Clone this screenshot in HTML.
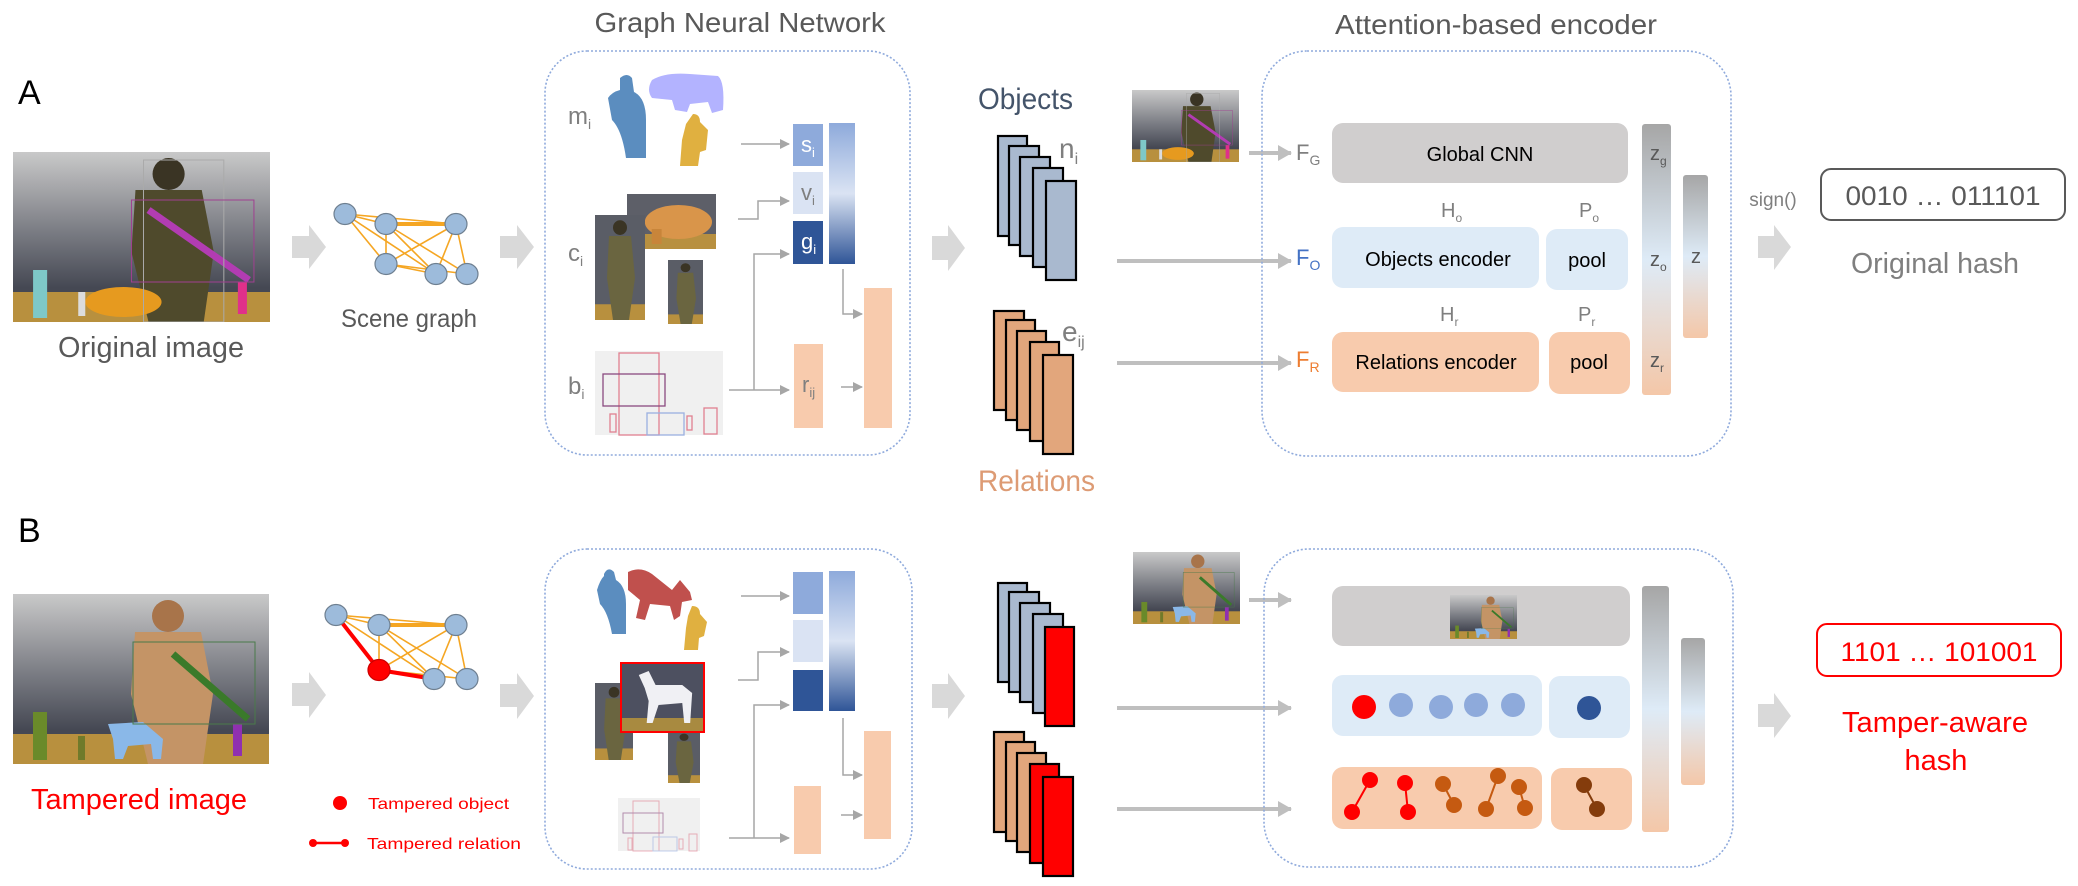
<!DOCTYPE html>
<html><head><meta charset="utf-8"><style>
html,body{margin:0;padding:0;background:#fff;}
svg{display:block;font-family:"Liberation Sans",sans-serif;}
</style></head><body>
<svg width="2078" height="886" viewBox="0 0 2078 886" xmlns="http://www.w3.org/2000/svg">
<defs>
<marker id="ah" markerWidth="10" markerHeight="10" refX="9" refY="5" orient="auto" markerUnits="userSpaceOnUse"><path d="M0,0 L10,5 L0,10 z" fill="#a6a6a6"/></marker>
<marker id="ahb" markerWidth="14" markerHeight="16" refX="13" refY="8" orient="auto" markerUnits="userSpaceOnUse"><path d="M0,0 L14,8 L0,16 z" fill="#bfbfbf"/></marker>
<linearGradient id="sky" x1="0" y1="0" x2="0" y2="1"><stop offset="0" stop-color="#c9c9c9"/><stop offset="0.45" stop-color="#7d7f86"/><stop offset="0.8" stop-color="#454853"/></linearGradient>
<linearGradient id="gbar" x1="0" y1="0" x2="0" y2="1"><stop offset="0" stop-color="#8eaadb"/><stop offset="0.5" stop-color="#dae3f3"/><stop offset="1" stop-color="#2f5597"/></linearGradient>
<linearGradient id="zbar" x1="0" y1="0" x2="0" y2="1"><stop offset="0" stop-color="#a6a6a6"/><stop offset="0.5" stop-color="#deebf7"/><stop offset="1" stop-color="#f4c7a8"/></linearGradient>
<symbol id="photoA" viewBox="0 0 256 170" preserveAspectRatio="none">
<rect width="256" height="170" fill="url(#sky)"/>
<rect y="140" width="256" height="30" fill="#b8903e"/>
<circle cx="155" cy="22" r="16" fill="#3a3424"/>
<polygon points="122,38 188,38 200,100 190,170 135,170 118,100" fill="#4f4a2c"/>
<line x1="135" y1="58" x2="235" y2="128" stroke="#b23cb2" stroke-width="7"/>
<ellipse cx="110" cy="150" rx="38" ry="15" fill="#e69a1f"/>
<rect x="20" y="118" width="14" height="48" fill="#7ec8c8"/>
<rect x="65" y="140" width="7" height="24" fill="#dcdcdc"/>
<rect x="224" y="130" width="9" height="32" fill="#e0308a"/>
<rect x="130" y="8" width="80" height="162" fill="none" stroke="#aaa" stroke-width="1"/>
<rect x="118" y="48" width="122" height="82" fill="none" stroke="#a04090" stroke-width="1"/>
</symbol>
<symbol id="photoB" viewBox="0 0 256 170" preserveAspectRatio="none">
<rect width="256" height="170" fill="url(#sky)"/>
<rect y="140" width="256" height="30" fill="#b8903e"/>
<circle cx="155" cy="22" r="16" fill="#a8744a"/>
<polygon points="122,38 188,38 200,100 190,170 135,170 118,100" fill="#c49466"/>
<line x1="160" y1="60" x2="235" y2="125" stroke="#3a7a2a" stroke-width="7"/>
<path d="M95,130 L130,128 L150,145 L148,165 L140,165 L138,150 L115,152 L110,165 L102,165 L100,145 Z" fill="#8ab8e8"/>
<rect x="20" y="118" width="14" height="48" fill="#6a8a2a"/>
<rect x="65" y="142" width="7" height="24" fill="#707a2a"/>
<rect x="220" y="130" width="9" height="32" fill="#9030b0"/>
<rect x="120" y="48" width="122" height="82" fill="none" stroke="#4a7a4a" stroke-width="1"/>
</symbol>
<symbol id="soldier" viewBox="0 0 50 100" preserveAspectRatio="none">
<rect width="50" height="100" fill="#5a5d66"/>
<rect y="85" width="50" height="15" fill="#b8903e"/>
<circle cx="25" cy="12" r="7" fill="#3a3424"/>
<polygon points="14,20 36,20 40,60 34,100 18,100 12,60" fill="#6a6540"/>
</symbol>
<symbol id="rhino" viewBox="0 0 90 55" preserveAspectRatio="none">
<rect width="90" height="55" fill="#5d5f68"/>
<rect y="40" width="90" height="15" fill="#b89040"/>
<ellipse cx="52" cy="28" rx="34" ry="17" fill="#d9954a"/>
<rect x="25" y="35" width="10" height="15" fill="#c8853a"/>
</symbol>
<symbol id="horse" viewBox="0 0 84 69" preserveAspectRatio="none">
<rect width="84" height="69" fill="#4d5060"/>
<rect y="55" width="84" height="14" fill="#a88a40"/>
<path d="M18,12 L28,8 L35,22 L62,22 L72,30 L70,60 L64,60 L62,40 L38,42 L32,60 L26,60 L28,38 L24,25 Z" fill="#f0f0f4"/>
</symbol>
</defs>

<text x="740" y="32" font-size="28" fill="#595959" text-anchor="middle" textLength="291" lengthAdjust="spacingAndGlyphs">Graph Neural Network</text>
<text x="1496" y="34" font-size="28" fill="#595959" text-anchor="middle" textLength="322" lengthAdjust="spacingAndGlyphs">Attention-based encoder</text>

<text x="18" y="104" font-size="34" fill="#000">A</text>
<use href="#photoA" x="13" y="152" width="257" height="170"/>
<text x="151" y="357" font-size="29" fill="#595959" text-anchor="middle" textLength="186" lengthAdjust="spacingAndGlyphs">Original image</text>

<g fill="#d9d9d9">
<polygon points="292,236 309,236 309,225 326,247 309,269 309,258 292,258"/>
<polygon points="500,236 517,236 517,225 534,247 517,269 517,258 500,258"/>
<polygon points="932,236 948,236 948,225 965,248 948,271 948,260 932,260"/>
<polygon points="1758,236 1774,236 1774,225 1791,247 1774,270 1774,258 1758,258"/>
<polygon points="292,683 309,683 309,672 326,695 309,718 309,706 292,706"/>
<polygon points="500,684 517,684 517,673 534,696 517,719 517,707 500,707"/>
<polygon points="932,684 948,684 948,673 965,696 948,719 948,708 932,708"/>
<polygon points="1758,704 1774,704 1774,693 1791,716 1774,738 1774,727 1758,727"/>
</g>

<g stroke="#f5a623" stroke-width="1.6">
<line x1="345" y1="214" x2="386" y2="224"/><line x1="345" y1="214" x2="456" y2="224"/>
<line x1="345" y1="214" x2="386" y2="264"/><line x1="345" y1="214" x2="436" y2="274"/>
<line x1="386" y1="224" x2="456" y2="224" stroke-width="4"/><line x1="386" y1="224" x2="436" y2="274"/>
<line x1="386" y1="224" x2="467" y2="274"/><line x1="386" y1="224" x2="386" y2="264"/>
<line x1="386" y1="264" x2="456" y2="224"/><line x1="386" y1="264" x2="436" y2="274"/>
<line x1="456" y1="224" x2="436" y2="274"/><line x1="456" y1="224" x2="467" y2="274"/>
<line x1="386" y1="264" x2="467" y2="274"/>
</g>
<g fill="#9dbbdb" stroke="#6e7f90" stroke-width="1.2">
<ellipse cx="345" cy="214" rx="11" ry="10.5"/><ellipse cx="386" cy="224" rx="11" ry="10.5"/>
<ellipse cx="456" cy="224" rx="11" ry="10.5"/><ellipse cx="386" cy="264" rx="11" ry="10.5"/>
<ellipse cx="436" cy="274" rx="11" ry="10.5"/><ellipse cx="467" cy="274" rx="11" ry="10.5"/>
</g>
<text x="409" y="327" font-size="25" fill="#595959" text-anchor="middle" textLength="136" lengthAdjust="spacingAndGlyphs">Scene graph</text>

<rect x="545" y="51" width="365" height="404" rx="42" fill="none" stroke="#8faadc" stroke-width="1.6" stroke-dasharray="2,2"/>
<text x="568" y="124" font-size="24" fill="#7f7f7f">m<tspan font-size="14" dy="5">i</tspan></text>
<text x="568" y="261" font-size="24" fill="#7f7f7f">c<tspan font-size="14" dy="5">i</tspan></text>
<text x="568" y="394" font-size="24" fill="#7f7f7f">b<tspan font-size="14" dy="5">i</tspan></text>
<path d="M620,78 Q627,72 632,78 L634,92 Q646,98 646,120 L646,158 L626,158 Q622,130 612,120 L608,98 Q612,92 620,90 Z" fill="#5b8dbf"/>
<path d="M652,80 Q665,72 690,74 L718,76 Q725,82 723,110 L712,113 L708,102 L690,104 L687,112 L675,110 L672,100 L652,98 Q646,90 652,80 Z" fill="#b3b3ff"/>
<path d="M693,114 Q700,114 700,122 L708,130 L706,150 L700,152 L698,166 L680,166 L682,140 L686,124 Z" fill="#e0b040"/>
<use href="#rhino" x="627" y="194" width="89" height="55"/>
<use href="#soldier" x="595" y="215" width="50" height="105"/>
<use href="#soldier" x="668" y="260" width="35" height="64"/>
<rect x="595" y="351" width="128" height="84" fill="#f0f0f0"/>
<g fill="none" stroke-width="1.3">
<rect x="619" y="353" width="40" height="82" stroke="#e08090"/>
<rect x="603" y="374" width="62" height="32" stroke="#8a4a80"/>
<rect x="610" y="414" width="6" height="18" stroke="#e08090"/>
<rect x="647" y="413" width="37" height="22" stroke="#9ab0e0"/>
<rect x="687" y="416" width="5" height="14" stroke="#e08090"/>
<rect x="704" y="408" width="13" height="26" stroke="#e08090"/>
</g>
<rect x="793" y="124" width="30" height="42" fill="#8eaadb"/>
<rect x="793" y="172" width="30" height="42" fill="#dae3f3"/>
<rect x="793" y="221" width="30" height="43" fill="#2f5597"/>
<rect x="829" y="123" width="26" height="141" fill="url(#gbar)"/>
<text x="801" y="152" font-size="22" fill="#fff">s<tspan font-size="13" dy="5">i</tspan></text>
<text x="801" y="200" font-size="22" fill="#7f7f7f">v<tspan font-size="13" dy="5">i</tspan></text>
<text x="801" y="249" font-size="22" fill="#fff">g<tspan font-size="13" dy="5">i</tspan></text>
<rect x="794" y="344" width="29" height="84" fill="#f8cbad"/>
<rect x="864" y="288" width="28" height="140" fill="#f8cbad"/>
<text x="802" y="392" font-size="22" fill="#7f7f7f">r<tspan font-size="13" dy="5">ij</tspan></text>
<g stroke="#a6a6a6" stroke-width="1.5" fill="none" marker-end="url(#ah)">
<line x1="741" y1="144" x2="789" y2="144"/>
<polyline points="738,219 758,219 758,201 789,201"/>
<polyline points="729,390 789,390"/>
<polyline points="754,390 754,254 789,254"/>
<polyline points="843,269 843,314 862,314"/>
<line x1="841" y1="387" x2="862" y2="387"/>
</g>

<text x="978" y="109" font-size="30" fill="#44546a" textLength="95" lengthAdjust="spacingAndGlyphs">Objects</text>
<g stroke="#000" stroke-width="2.2" fill="#a9b9cf">
<rect x="998" y="136" width="29" height="100"/><rect x="1009" y="146" width="30" height="99"/>
<rect x="1020" y="157" width="30" height="99"/><rect x="1033" y="168" width="30" height="99"/>
<rect x="1046" y="181" width="30" height="99"/>
</g>
<text x="1059" y="158" font-size="28" fill="#7f7f7f">n<tspan font-size="16" dy="6">i</tspan></text>
<g stroke="#000" stroke-width="2.2" fill="#e2a67c">
<rect x="994" y="311" width="30" height="99"/><rect x="1006" y="320" width="29" height="100"/>
<rect x="1017" y="331" width="29" height="99"/><rect x="1030" y="342" width="29" height="99"/>
<rect x="1043" y="355" width="30" height="99"/>
</g>
<text x="1062" y="341" font-size="28" fill="#7f7f7f">e<tspan font-size="16" dy="6">ij</tspan></text>
<text x="978" y="491" font-size="30" fill="#dd9b74" textLength="117" lengthAdjust="spacingAndGlyphs">Relations</text>

<use href="#photoA" x="1132" y="90" width="107" height="72"/>
<g stroke="#bfbfbf" stroke-width="4" fill="none" marker-end="url(#ahb)">
<line x1="1249" y1="153" x2="1291" y2="153"/>
<line x1="1117" y1="261" x2="1291" y2="261"/>
<line x1="1117" y1="363" x2="1291" y2="363"/>
<line x1="1249" y1="600" x2="1291" y2="600"/>
<line x1="1117" y1="708" x2="1291" y2="708"/>
<line x1="1117" y1="809" x2="1291" y2="809"/>
</g>

<rect x="1262" y="51" width="469" height="405" rx="45" fill="none" stroke="#8faadc" stroke-width="1.6" stroke-dasharray="2,2"/>
<rect x="1332" y="123" width="296" height="60" rx="11" fill="#d0cece"/>
<text x="1480" y="161" font-size="20" fill="#000" text-anchor="middle">Global CNN</text>
<text x="1296" y="160" font-size="22" fill="#7f7f7f">F<tspan font-size="14" dy="5">G</tspan></text>
<text x="1441" y="217" font-size="20" fill="#7f7f7f">H<tspan font-size="12" dy="5">o</tspan></text>
<text x="1579" y="217" font-size="20" fill="#7f7f7f">P<tspan font-size="12" dy="5">o</tspan></text>
<rect x="1332" y="227" width="207" height="61" rx="11" fill="#deebf7"/>
<rect x="1546" y="229" width="82" height="61" rx="11" fill="#deebf7"/>
<text x="1438" y="266" font-size="20" fill="#000" text-anchor="middle">Objects encoder</text>
<text x="1587" y="267" font-size="20" fill="#000" text-anchor="middle">pool</text>
<text x="1296" y="265" font-size="22" fill="#4472c4">F<tspan font-size="14" dy="5">O</tspan></text>
<text x="1440" y="321" font-size="20" fill="#7f7f7f">H<tspan font-size="12" dy="5">r</tspan></text>
<text x="1578" y="321" font-size="20" fill="#7f7f7f">P<tspan font-size="12" dy="5">r</tspan></text>
<rect x="1332" y="332" width="207" height="60" rx="11" fill="#f8cbad"/>
<rect x="1549" y="332" width="81" height="62" rx="11" fill="#f8cbad"/>
<text x="1436" y="369" font-size="20" fill="#000" text-anchor="middle">Relations encoder</text>
<text x="1589" y="369" font-size="20" fill="#000" text-anchor="middle">pool</text>
<text x="1296" y="367" font-size="22" fill="#ed7d31">F<tspan font-size="14" dy="5">R</tspan></text>
<rect x="1642" y="124" width="29" height="271" rx="3" fill="url(#zbar)"/>
<rect x="1683" y="175" width="25" height="163" rx="3" fill="url(#zbar)"/>
<text x="1650" y="160" font-size="20" fill="#595959">z<tspan font-size="12" dy="5">g</tspan></text>
<text x="1650" y="266" font-size="20" fill="#595959">z<tspan font-size="12" dy="5">o</tspan></text>
<text x="1650" y="367" font-size="20" fill="#595959">z<tspan font-size="12" dy="5">r</tspan></text>
<text x="1691" y="263" font-size="20" fill="#595959">z</text>
<text x="1773" y="206" font-size="19" fill="#7f7f7f" text-anchor="middle">sign()</text>
<rect x="1821" y="169" width="244" height="51" rx="10" fill="none" stroke="#595959" stroke-width="2"/>
<text x="1943" y="205" font-size="27" fill="#595959" text-anchor="middle" textLength="195" lengthAdjust="spacingAndGlyphs">0010 … 011101</text>
<text x="1935" y="273" font-size="29" fill="#7f7f7f" text-anchor="middle" textLength="168" lengthAdjust="spacingAndGlyphs">Original hash</text>

<text x="18" y="542" font-size="34" fill="#000">B</text>
<use href="#photoB" x="13" y="594" width="256" height="170"/>
<text x="139" y="809" font-size="29" fill="#ff0000" text-anchor="middle" textLength="216" lengthAdjust="spacingAndGlyphs">Tampered image</text>

<g stroke="#f5a623" stroke-width="1.6">
<line x1="336" y1="615" x2="379" y2="625"/><line x1="336" y1="615" x2="456" y2="625"/>
<line x1="336" y1="615" x2="434" y2="679"/>
<line x1="379" y1="625" x2="456" y2="625" stroke-width="4"/><line x1="379" y1="625" x2="434" y2="679"/>
<line x1="379" y1="625" x2="467" y2="679"/><line x1="379" y1="625" x2="379" y2="670"/>
<line x1="379" y1="670" x2="456" y2="625"/>
<line x1="456" y1="625" x2="434" y2="679"/><line x1="456" y1="625" x2="467" y2="679"/>
<line x1="379" y1="670" x2="467" y2="679"/>
</g>
<g stroke="#ff0000" stroke-width="4">
<line x1="336" y1="615" x2="379" y2="670"/><line x1="379" y1="670" x2="434" y2="679"/>
</g>
<g fill="#9dbbdb" stroke="#6e7f90" stroke-width="1.2">
<ellipse cx="336" cy="615" rx="11" ry="10.5"/><ellipse cx="379" cy="625" rx="11" ry="10.5"/>
<ellipse cx="456" cy="625" rx="11" ry="10.5"/>
<ellipse cx="434" cy="679" rx="11" ry="10.5"/><ellipse cx="467" cy="679" rx="11" ry="10.5"/>
</g>
<ellipse cx="379" cy="670" rx="11" ry="10.5" fill="#ff0000" stroke="#c00" stroke-width="1.2"/>
<ellipse cx="340" cy="803" rx="7" ry="7" fill="#ff0000"/>
<text x="368" y="809" font-size="16" fill="#ff0000" textLength="141" lengthAdjust="spacingAndGlyphs">Tampered object</text>
<line x1="313" y1="843" x2="345" y2="843" stroke="#ff0000" stroke-width="2.5"/>
<circle cx="313" cy="843" r="4" fill="#ff0000"/><circle cx="345" cy="843" r="4" fill="#ff0000"/>
<text x="367" y="849" font-size="16" fill="#ff0000" textLength="154" lengthAdjust="spacingAndGlyphs">Tampered relation</text>

<rect x="545" y="549" width="367" height="320" rx="42" fill="none" stroke="#8faadc" stroke-width="1.6" stroke-dasharray="2,2"/>
<path d="M604,574 Q608,566 614,572 L616,580 Q626,586 626,604 L626,634 L612,634 Q608,612 600,604 L597,590 Q600,580 604,576 Z" fill="#5b8dbf"/>
<path d="M628,572 Q640,566 652,574 L672,590 L680,580 L690,592 L692,600 L682,602 L680,616 L674,620 L670,606 L650,604 L645,620 L636,618 L640,600 L628,590 Z" fill="#c0504d"/>
<path d="M692,606 Q700,606 700,614 L707,622 L704,636 L699,638 L698,650 L684,650 L686,628 L688,616 Z" fill="#e0b040"/>
<use href="#soldier" x="595" y="683" width="38" height="77"/>
<use href="#soldier" x="668" y="731" width="32" height="52"/>
<use href="#horse" x="621" y="663" width="83" height="69"/>
<rect x="621" y="663" width="83" height="69" fill="none" stroke="#ff0000" stroke-width="2"/>
<rect x="618" y="798" width="82" height="53" fill="#f0f0f0"/>
<g fill="none" stroke-width="1" opacity="0.6">
<rect x="633" y="801" width="26" height="50" stroke="#e08090"/>
<rect x="623" y="813" width="40" height="20" stroke="#8a4a80"/>
<rect x="628" y="838" width="4" height="12" stroke="#e08090"/>
<rect x="653" y="837" width="24" height="14" stroke="#9ab0e0"/>
<rect x="679" y="839" width="4" height="10" stroke="#e08090"/>
<rect x="689" y="834" width="8" height="17" stroke="#e08090"/>
</g>
<rect x="793" y="572" width="30" height="42" fill="#8eaadb"/>
<rect x="793" y="620" width="30" height="42" fill="#dae3f3"/>
<rect x="793" y="670" width="30" height="41" fill="#2f5597"/>
<rect x="829" y="571" width="26" height="140" fill="url(#gbar)"/>
<rect x="794" y="786" width="27" height="68" fill="#f8cbad"/>
<rect x="864" y="731" width="27" height="108" fill="#f8cbad"/>
<g stroke="#a6a6a6" stroke-width="1.5" fill="none" marker-end="url(#ah)">
<line x1="741" y1="596" x2="789" y2="596"/>
<polyline points="738,680 758,680 758,652 789,652"/>
<polyline points="729,838 789,838"/>
<polyline points="754,838 754,705 789,705"/>
<polyline points="843,718 843,775 862,775"/>
<line x1="841" y1="815" x2="862" y2="815"/>
</g>

<g stroke="#000" stroke-width="2.2">
<rect x="998" y="583" width="29" height="99" fill="#a9b9cf"/><rect x="1009" y="592" width="30" height="100" fill="#a9b9cf"/>
<rect x="1020" y="603" width="30" height="99" fill="#a9b9cf"/><rect x="1033" y="614" width="30" height="99" fill="#a9b9cf"/>
<rect x="1045" y="627" width="29" height="99" fill="#ff0000"/>
<rect x="994" y="732" width="30" height="100" fill="#e2a67c"/><rect x="1006" y="742" width="29" height="99" fill="#e2a67c"/>
<rect x="1017" y="753" width="29" height="99" fill="#e2a67c"/><rect x="1030" y="764" width="29" height="99" fill="#ff0000"/>
<rect x="1043" y="777" width="30" height="99" fill="#ff0000"/>
</g>
<use href="#photoB" x="1133" y="552" width="107" height="72"/>

<rect x="1264" y="549" width="469" height="318" rx="45" fill="none" stroke="#8faadc" stroke-width="1.6" stroke-dasharray="2,2"/>
<rect x="1332" y="586" width="298" height="60" rx="11" fill="#d0cece"/>
<use href="#photoB" x="1450" y="595" width="67" height="44"/>
<rect x="1332" y="675" width="210" height="61" rx="11" fill="#deebf7"/>
<rect x="1549" y="676" width="81" height="62" rx="11" fill="#deebf7"/>
<ellipse cx="1364" cy="707" rx="12" ry="12" fill="#ff0000"/>
<g fill="#8eaadb">
<ellipse cx="1401" cy="705" rx="12" ry="12"/><ellipse cx="1441" cy="707" rx="12" ry="12"/>
<ellipse cx="1476" cy="705" rx="12" ry="12"/><ellipse cx="1513" cy="705" rx="12" ry="12"/>
</g>
<ellipse cx="1589" cy="708" rx="12" ry="12" fill="#2f5597"/>
<rect x="1332" y="767" width="210" height="62" rx="11" fill="#f8cbad"/>
<rect x="1551" y="768" width="81" height="62" rx="11" fill="#f8cbad"/>
<g stroke-width="2">
<g stroke="#ff0000" fill="#ff0000">
<line x1="1370" y1="780" x2="1352" y2="812"/><ellipse cx="1370" cy="780" rx="7" ry="7"/><ellipse cx="1352" cy="812" rx="7" ry="7"/>
<line x1="1405" y1="783" x2="1408" y2="812"/><ellipse cx="1405" cy="783" rx="7" ry="7"/><ellipse cx="1408" cy="812" rx="7" ry="7"/>
</g>
<g stroke="#c55a11" fill="#c55a11">
<line x1="1443" y1="784" x2="1454" y2="805"/><ellipse cx="1443" cy="784" rx="7" ry="7"/><ellipse cx="1454" cy="805" rx="7" ry="7"/>
<line x1="1498" y1="776" x2="1486" y2="809"/><ellipse cx="1498" cy="776" rx="7" ry="7"/><ellipse cx="1486" cy="809" rx="7" ry="7"/>
<line x1="1519" y1="787" x2="1525" y2="808"/><ellipse cx="1519" cy="787" rx="7" ry="7"/><ellipse cx="1525" cy="808" rx="7" ry="7"/>
</g>
<g stroke="#843c0c" fill="#843c0c">
<line x1="1584" y1="785" x2="1597" y2="809"/><ellipse cx="1584" cy="785" rx="7" ry="7"/><ellipse cx="1597" cy="809" rx="7" ry="7"/>
</g>
</g>
<rect x="1642" y="586" width="27" height="246" rx="3" fill="url(#zbar)"/>
<rect x="1681" y="638" width="24" height="147" rx="3" fill="url(#zbar)"/>
<rect x="1817" y="624" width="244" height="52" rx="10" fill="none" stroke="#ff0000" stroke-width="2"/>
<text x="1939" y="661" font-size="27" fill="#ff0000" text-anchor="middle" textLength="197" lengthAdjust="spacingAndGlyphs">1101 … 101001</text>
<text x="1935" y="732" font-size="29" fill="#ff0000" text-anchor="middle" textLength="186" lengthAdjust="spacingAndGlyphs">Tamper-aware</text>
<text x="1936" y="770" font-size="29" fill="#ff0000" text-anchor="middle">hash</text>
</svg>
</body></html>
